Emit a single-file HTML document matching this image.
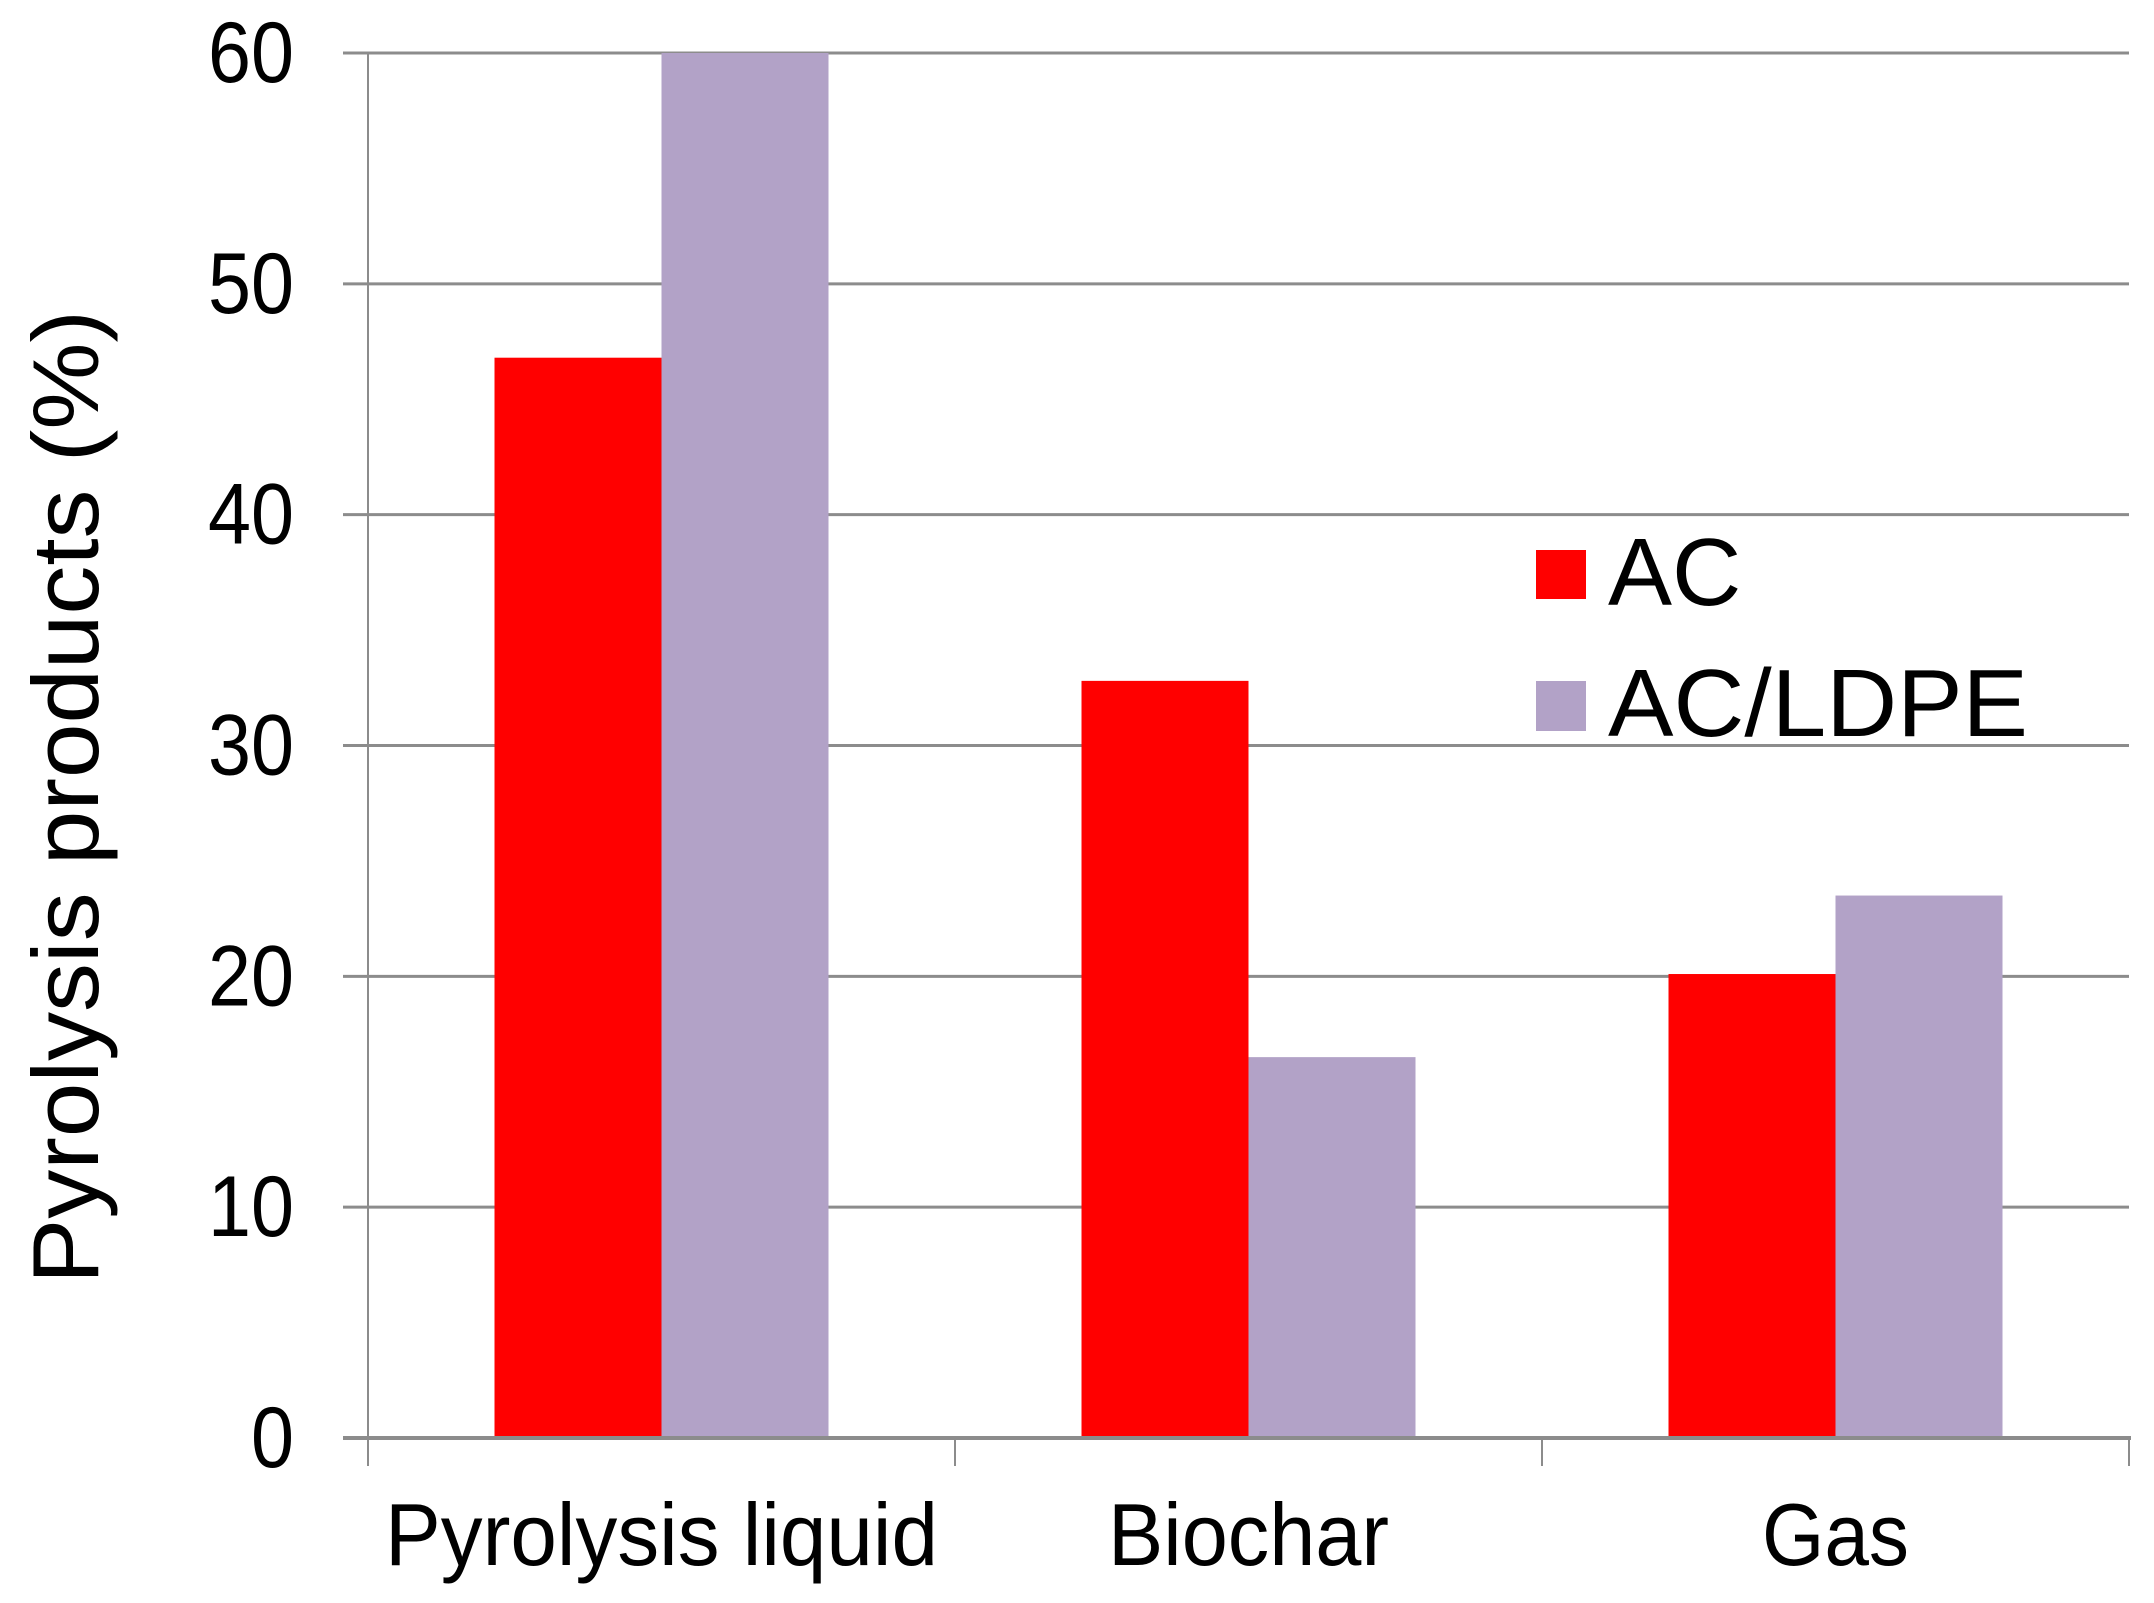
<!DOCTYPE html>
<html><head><meta charset="utf-8"><style>body{margin:0;background:#fff}svg{display:block}text{font-family:"Liberation Sans",Arial,sans-serif;fill:#000}</style></head>
<body>
<svg id="chart" width="2154" height="1603" viewBox="0 0 2154 1603" xmlns="http://www.w3.org/2000/svg">
<g id="grid"></g>
<g id="bars"></g>
<g id="axes"></g>
<text transform="translate(98,797) rotate(-90)" text-anchor="middle" font-size="94" textLength="974" lengthAdjust="spacingAndGlyphs">Pyrolysis products (%)</text>
<g>
<rect x="1536" y="550" width="50" height="49" fill="#ff0000"/>
<text x="1608" y="605" font-size="96">AC</text>
<rect x="1536" y="681" width="50" height="50" fill="#b2a2c7"/>
<text x="1608" y="736" font-size="96" textLength="420" lengthAdjust="spacingAndGlyphs">AC/LDPE</text>
</g>
</svg>
<script>
const categories = ["Pyrolysis liquid", "Biochar", "Gas"];
const acValues = [46.8, 32.8, 20.1];
const ldpeValues = [60, 16.5, 23.5];
const yTicks = [0, 10, 20, 30, 40, 50, 60];

const NS = "http://www.w3.org/2000/svg";
const L = 368, R = 2129, T = 53, B = 1438, YMAX = 60;
const y = v => B - (v / YMAX) * (B - T);
const bandW = (R - L) / categories.length;
const barW = 167;
const x = i => L + bandW * i + bandW / 2;
const labelLens = [553, 281, 147];
function mk(tag, attrs, parent) { const e = document.createElementNS(NS, tag); for (const k in attrs) e.setAttribute(k, attrs[k]); parent.appendChild(e); return e; }
const grid = document.getElementById('grid'), bars = document.getElementById('bars'), axes = document.getElementById('axes');

yTicks.forEach(t => {
  if (t > 0) {
    const g = mk('line', {x1: L, x2: R, y1: y(t), y2: y(t), stroke: '#8c8c8c', 'stroke-width': 3}, grid);
    
    
  }
  const tk = mk('line', {x1: 343, x2: L, y1: y(t), y2: y(t), stroke: '#8c8c8c', 'stroke-width': 3}, axes);
  
  
  const s = String(t);
  const lb = mk('text', {x: 294, y: y(t) + 29, 'text-anchor': 'end', 'font-size': 86, textLength: s.length * 43, lengthAdjust: 'spacingAndGlyphs'}, axes);
  lb.textContent = s;
  
  
});

categories.forEach((c, i) => {
  const r = mk('rect', {x: x(i) - barW, y: y(acValues[i]), width: barW, height: B - y(acValues[i]), fill: '#ff0000'}, bars);
  
  
  const p = mk('rect', {x: x(i), y: y(ldpeValues[i]), width: barW, height: B - y(ldpeValues[i]), fill: '#b2a2c7'}, bars);
  
  
  const lb = mk('text', {x: x(i), y: 1565, 'text-anchor': 'middle', 'font-size': 88, textLength: labelLens[i], lengthAdjust: 'spacingAndGlyphs'}, axes);
  lb.textContent = c;
  
  
});

for (let i = 0; i <= categories.length; i++) {
  const xt = L + bandW * i;
  const tk = mk('line', {x1: xt, x2: xt, y1: B, y2: 1466, stroke: '#8c8c8c', 'stroke-width': 2}, axes);
  
  
}
const ya = mk('line', {x1: L, x2: L, y1: T, y2: B, stroke: '#8c8c8c', 'stroke-width': 2}, axes);


const xa = mk('line', {x1: 343, x2: R + 2, y1: B, y2: B, stroke: '#8c8c8c', 'stroke-width': 4}, axes);


</script>
</body></html>
